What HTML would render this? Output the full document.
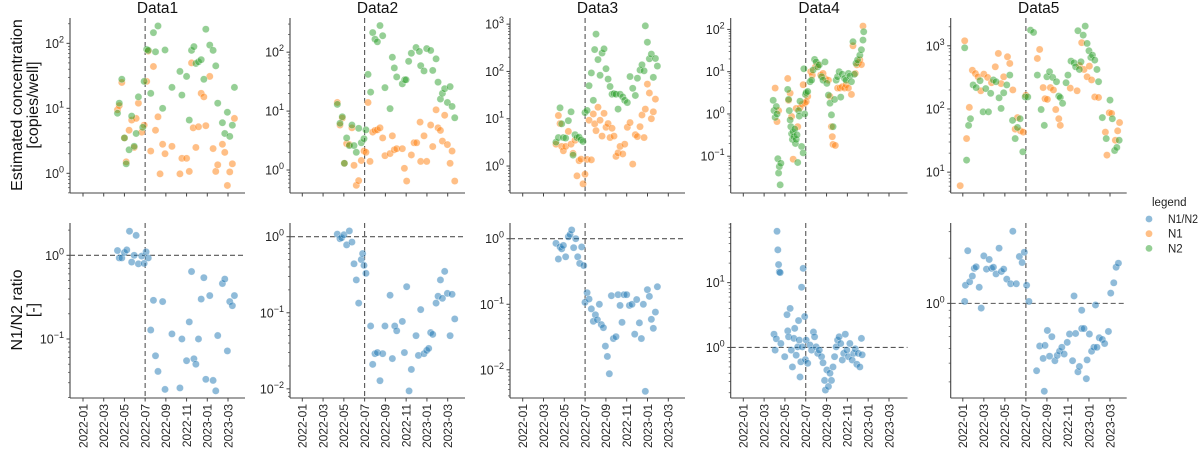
<!DOCTYPE html>
<html><head><meta charset="utf-8">
<style>
html,body{margin:0;padding:0;background:#fff;}
svg{display:block;font-family:"Liberation Sans","DejaVu Sans",sans-serif;}
</style></head>
<body>
<svg id="chart" width="1200" height="453" viewBox="0 0 1200 453" xmlns="http://www.w3.org/2000/svg"></svg>
<script>
// ---------- DATA (months since 2022-01-01, values) ----------
const xTickLabels = ["2022-01","2022-03","2022-05","2022-07","2022-09","2022-11","2023-01","2023-03"];
const xTickMonths = [0,2,4,6,8,10,12,14];
const panelTitles = ["Data1","Data2","Data3","Data4","Data5"];
const cutoffMonth = 6;
const ratioRef = 1;

const d1N1Month = [3.33,3.5,3.75,4.0,4.17,4.45,4.7,4.94,5.13,5.35,5.67,5.9,6.15,6.3,6.54,6.8,7.0,7.24,7.44,7.69,7.92,8.59,9.36,9.55,10.0,10.26,10.48,10.64,10.9,11.15,11.41,11.67,11.86,12.24,12.56,12.82,13.01,13.46,13.69,14.17,14.42,14.62,13.94];
const d1N1 = [9.5,11,25,3.5,1.5,4.6,6.6,2.5,7.0,12,4.3,5.5,26,76,2.2,44,4.6,7.4,0.98,2.8,2.0,2.6,0.98,1.7,1.7,1.07,50,5.0,2.5,5.2,17,15,5.4,31,2.4,1.07,1.35,2.8,2.1,1.05,1.4,7.0,0.65];
const d1N2Month = [3.33,3.5,3.75,4.0,4.17,4.45,4.7,4.94,5.13,5.35,5.77,5.9,6.15,6.3,6.54,6.8,7.0,7.24,7.69,7.92,8.59,9.36,9.55,10.0,10.26,10.48,10.71,10.9,11.15,11.41,11.67,11.86,12.24,12.56,12.82,13.01,13.46,13.94,13.69,14.17,14.42,14.62];
const d1N2 = [8.4,12,28,3.5,1.4,2.3,7.6,2.6,4.1,15,5.1,26,81,78,17,146,74,185,10,79,21,37,16,31,6.6,78,89,49,52,56,28,165,94,78,45,12,6.0,8.7,4.1,3.7,5.5,21];
const d1RatioMonth = [3.33,3.5,3.75,4.0,4.23,4.49,4.7,4.94,5.13,5.35,5.67,5.9,6.09,6.3,6.54,6.8,7.0,7.24,7.69,7.92,8.59,9.36,9.55,10.0,10.26,10.48,10.71,10.9,11.15,11.41,11.67,11.86,12.24,12.56,12.82,13.01,13.46,13.69,13.94,14.17,14.42,14.62];
const d1Ratio = [1.14,0.93,0.93,1.08,1.16,1.94,0.83,1.0,1.73,0.79,0.98,0.80,1.1,0.93,0.128,0.29,0.063,0.041,0.28,0.025,0.115,0.026,0.10,0.055,0.16,0.64,0.058,0.05,0.10,0.30,0.54,0.033,0.33,0.032,0.024,0.11,0.46,0.52,0.072,0.28,0.25,0.33];

const d2N1Month = [3.37,3.63,3.85,4.05,4.27,4.53,4.78,4.98,5.2,5.43,5.68,5.94,6.13,6.33,6.52,6.78,7.0,7.23,7.48,7.74,7.96,8.45,8.67,8.86,9.09,9.63,9.83,10.05,10.5,10.76,11.01,11.34,11.4,11.72,11.98,12.36,12.56,12.88,13.07,13.3,13.49,13.71,13.97,14.23,14.42,14.68];
const d2N1 = [14,5.8,7.6,1.3,2.8,2.7,5.2,1.2,0.55,0.66,1.45,2.1,2.0,14,1.4,4.4,4.7,4.8,5.2,3.5,1.75,1.9,3.8,2.2,2.3,2.3,1.07,0.65,1.8,2.9,2.9,6.5,1.4,3.8,1.4,5.8,2.5,10.5,5.2,4.7,3.1,8.5,2.7,1.3,2.1,0.65];
const d2N2Month = [3.37,3.63,3.85,4.05,4.27,4.53,4.78,4.98,5.2,5.43,5.68,5.94,6.13,6.33,6.58,6.78,7.0,7.23,7.48,7.74,7.96,8.45,8.67,8.86,9.09,9.63,9.86,9.99,10.24,10.5,10.95,11.27,11.4,11.72,11.98,12.36,12.56,12.88,13.07,13.3,13.49,13.71,13.97,14.23,14.42,14.68];
const d2N2 = [13,6.2,8.0,1.3,3.5,2.6,5.8,2.6,2.0,5.1,2.9,3.4,4.8,42,21,215,166,150,283,190,25,11,82,54,38,29,34,34,70,96,120,103,59,48,115,107,49,77,31,16,20,24,14,26,12,7.7];
const d2RatioMonth = [3.37,3.63,3.79,4.01,4.27,4.53,4.78,4.98,5.2,5.43,5.68,5.81,5.94,6.13,6.58,6.78,7.0,7.23,7.48,7.74,7.96,8.45,8.67,8.9,9.09,9.63,9.83,10.05,10.28,10.5,10.95,11.18,11.4,11.72,11.98,12.17,12.36,12.56,12.88,13.07,13.3,13.49,13.71,13.97,14.23,14.42,14.68];
const d2Ratio = [1.08,0.94,0.97,1.06,0.78,1.19,0.85,0.44,0.27,0.134,0.50,0.60,0.42,0.33,0.067,0.021,0.029,0.030,0.0128,0.029,0.067,0.17,0.025,0.067,0.058,0.077,0.030,0.22,0.0094,0.018,0.05,0.0275,0.11,0.029,0.032,0.034,0.055,0.052,0.134,0.165,0.27,0.155,0.35,0.18,0.05,0.175,0.083];

const d3N2Month = [3.2,3.43,3.59,3.75,3.91,4.13,4.39,4.65,4.84,5.03,5.22,5.42,5.61,5.8,5.99,6.19,6.38,6.6,6.79,6.92,7.05,7.24,7.44,7.63,7.82,8.01,8.21,8.4,8.59,8.78,8.97,9.17,9.36,9.62,9.81,10.06,10.32,10.58,10.83,11.03,11.28,11.47,11.67,11.79,11.99,12.18,12.37,12.56,12.76,12.95];
const d3N2 = [3.2,4.0,17,7.8,4.0,3.9,9.1,14,1.7,4.6,4.0,4.1,3.6,3.3,13.5,15,50,93,24.5,290,615,178,83,245,300,114,69,48,33,34,33,16,33,29,24.5,22,78,44,31,72,107,138,103,920,415,185,233,75,188,130];
const d3N1Month = [3.2,3.43,3.59,3.75,3.91,4.13,4.39,4.65,4.84,5.03,5.22,5.42,5.61,5.8,5.99,6.19,6.38,6.6,6.79,6.92,7.05,7.24,7.44,7.63,7.82,8.01,8.21,8.4,8.59,8.78,8.97,9.17,9.36,9.62,9.81,10.06,10.32,10.58,10.83,11.03,11.28,11.47,11.67,11.79,11.99,12.18,12.37,12.56,12.76];
const d3N1 = [2.9,11.7,7.9,2.6,2.1,2.6,5.4,2.9,1.85,3.5,0.62,1.3,1.4,0.42,0.67,1.38,9.3,1.35,12.6,7.8,5.6,17.5,9.3,4.3,13,6.6,7.9,4.0,6.3,4.3,1.6,1.9,2.6,1.8,2.9,6.6,8.3,1.1,4.6,4.2,6.8,12,4.0,16,54,35,10,14,26];
const d3RatioMonth = [3.2,3.43,3.59,3.75,3.91,4.13,4.39,4.55,4.71,4.9,5.1,5.29,5.48,5.67,5.87,5.99,6.19,6.38,6.6,6.79,6.99,7.18,7.37,7.56,7.76,7.95,8.14,8.33,8.53,8.72,8.97,9.17,9.36,9.55,9.74,10.0,10.26,10.51,10.77,10.96,11.22,11.41,11.6,11.79,11.99,12.18,12.37,12.56,12.76,12.95];
const d3Ratio = [0.85,0.49,0.75,0.70,0.79,0.53,1.07,1.16,1.36,0.73,1.0,0.53,0.42,0.75,0.39,0.107,0.15,0.12,0.085,0.055,0.069,0.058,0.10,0.049,0.044,0.023,0.016,0.0087,0.135,0.030,0.032,0.14,0.096,0.053,0.14,0.14,0.096,0.10,0.035,0.118,0.052,0.030,0.10,0.0047,0.167,0.132,0.059,0.043,0.076,0.185];

const d4N1Month = [3.06,3.24,3.39,4.27,4.35,4.5,4.64,4.79,5.08,5.23,5.45,5.67,5.75,5.9,6.04,6.19,6.48,6.63,6.93,7.15,7.44,7.66,7.89,8.18,8.33,8.47,8.55,8.62,8.84,9.06,9.29,9.51,9.73,9.87,10.1,10.39,10.54,10.76,10.91,11.05,11.2,11.35,11.5];
const d4N1 = [4.1,0.66,1.2,6.9,2.1,3.1,0.87,0.085,1.35,0.50,1.4,1.7,4.9,1.8,1.95,2.6,10,8.3,13,14.5,8.3,9.1,6.8,6.3,2.6,0.50,0.29,0.19,0.18,4.1,4.1,4.4,4.1,4.9,4.1,2.9,41,9.1,14.5,16,19,14.7,120];
const d4N2Month = [2.87,2.95,3.06,3.17,3.24,3.32,3.39,3.46,3.54,3.61,4.27,4.35,4.42,4.5,4.57,4.64,4.72,4.79,4.86,4.94,5.01,5.08,5.16,5.23,5.31,5.38,5.45,5.6,5.75,5.82,5.9,5.97,6.04,6.19,6.41,6.56,6.71,6.85,7.0,7.15,7.3,7.52,7.66,7.85,8.03,8.18,8.33,8.47,8.62,8.77,8.92,9.06,9.21,9.36,9.51,9.73,9.87,10.1,10.24,10.39,10.54,10.68,10.83,10.98,11.2,11.35,11.5,11.57];
const d4N2 = [2.1,1.2,0.83,1.5,1.0,0.087,0.040,0.057,0.021,0.068,3.8,2.2,1.2,0.72,0.50,0.34,0.25,0.38,0.29,0.44,0.20,0.25,0.32,0.071,1.2,0.89,2.0,0.17,0.12,11.7,1.0,2.9,3.2,3.4,5.8,6.3,11,19.5,17,13,14.5,7.6,6.3,17,5.3,2.8,1.8,0.95,0.50,2.2,6.3,7.6,10,2.5,8.7,6.9,6.3,9.1,7.9,5.8,51,8.7,15.8,19,24.6,33,56,88];
const d4RatioMonth = [2.95,3.06,3.17,3.24,3.32,3.39,3.46,3.54,3.61,3.98,4.2,4.27,4.35,4.5,4.61,4.72,4.86,4.94,5.08,5.23,5.31,5.38,5.45,5.53,5.6,5.67,5.75,5.9,5.97,6.04,6.19,6.41,6.56,6.74,6.85,7.0,7.15,7.3,7.52,7.66,7.81,7.89,8.03,8.18,8.33,8.47,8.62,8.77,8.92,9.06,9.21,9.36,9.51,9.65,9.8,9.95,10.1,10.24,10.46,10.61,10.76,10.91,11.05,11.2,11.35,11.42];
const d4Ratio = [1.6,0.91,1.36,62,32,19,14.6,14.3,1.15,0.72,3.2,1.8,1.46,4.0,0.91,0.50,1.38,1.97,0.76,1.02,2.6,1.3,0.35,0.60,8.5,1.02,16.6,3.0,0.65,1.3,0.57,1.09,0.91,1.73,1.46,1.02,0.81,0.91,0.72,0.58,0.31,0.22,0.45,0.25,0.40,0.31,0.50,0.72,1.02,1.3,1.46,1.15,0.64,0.81,1.6,0.91,0.72,1.15,0.64,0.81,0.95,0.55,0.81,0.50,1.38,0.77];

const d5N1Month = [-0.25,0.18,0.36,0.62,0.91,1.2,1.45,1.71,2.0,2.36,2.73,3.09,3.38,3.64,3.89,4.25,4.47,4.76,4.98,5.2,5.49,5.75,6.0,7.09,7.31,7.64,7.82,8.04,8.33,8.62,8.84,9.13,9.27,10.22,10.87,11.09,11.31,11.53,11.82,12.04,12.25,12.55,12.91,13.56,13.93,14.15,14.51,14.73,14.91,13.71];
const d5N1 = [6.1,1200,34,106,410,364,323,194,356,316,260,465,757,252,323,670,525,200,48,73,45,43,165,630,875,218,145,142,218,200,98,70,55,214,194,488,1120,422,323,477,288,155,152,43,87,85,32,45,61,18.6];
const d5N2Month = [0.18,0.36,0.55,0.73,0.98,1.27,1.64,1.93,2.18,2.44,2.65,2.91,3.16,3.45,3.64,3.89,4.18,4.47,4.73,4.98,5.2,5.45,5.71,5.93,6.18,6.44,6.73,7.09,7.45,7.75,8.0,8.25,8.55,8.91,9.13,9.27,9.49,9.82,10.0,10.29,10.58,10.73,10.95,11.09,11.24,11.45,11.64,11.82,12.0,12.18,12.33,12.55,12.76,12.91,13.27,13.64,14.0,14.22,14.44,14.65,14.87];
const d5N2 = [930,15.5,55,70,240,218,280,90,210,90,177,288,270,150,102,180,240,344,66,34,51,70,21,155,155,1770,1630,344,98,55,323,388,316,270,160,152,123,260,344,573,538,465,1730,422,558,1475,2050,1090,834,655,712,593,422,270,73,34,138,70,22,24.6,32];
const d5RatioMonth = [0.18,0.25,0.47,0.65,0.91,1.09,1.27,1.56,1.75,2.0,2.25,2.51,2.73,2.91,3.16,3.45,3.67,3.89,4.18,4.55,4.76,5.09,5.38,5.64,5.85,6.07,6.29,7.02,7.31,7.64,7.82,8.04,8.25,8.47,8.76,8.98,9.2,9.42,9.64,9.93,10.15,10.44,10.58,10.73,10.95,11.09,11.31,11.31,11.53,11.75,11.82,12.04,12.25,12.47,12.62,12.76,12.98,13.27,13.49,13.85,14.07,14.36,14.58,14.8,7.75];
const d5Ratio = [1.03,1.32,2.24,1.39,1.52,1.71,1.75,1.28,0.93,2.07,1.69,1.96,1.71,1.74,1.57,2.33,1.63,1.69,1.45,1.35,3.02,1.35,2.05,1.87,2.19,1.32,1.03,0.356,0.52,0.43,0.525,0.66,0.445,0.60,0.415,0.45,0.48,0.51,0.46,0.55,0.625,0.415,1.12,0.63,0.35,0.38,0.90,0.68,0.68,0.315,0.42,0.625,0.48,0.51,0.975,0.51,0.59,0.575,0.54,0.65,1.17,1.37,1.74,1.85,0.26];

// ---------- LAYOUT ----------
const NS = "http://www.w3.org/2000/svg";
const svg = document.getElementById("chart");
const COLORS = {ratio:"#1f77b4", n1:"#ff7f0e", n2:"#2ca02c"};
const rowTop = {y0:18, y1:193};
const rowBot = {y0:223, y1:398};
const cols = [
 {left:70, right:245, t0:83, t14:228, top:[-0.303,2.39], bot:[-1.705,0.386]},
 {left:290, right:465, t0:302.3, t14:447.7, top:[-0.39,2.58], bot:[-2.12,0.18]},
 {left:510, right:685, t0:522.7, t14:668.3, top:[-0.57,3.13], bot:[-2.43,0.24]},
 {left:730.7, right:907.5, t0:743.3, t14:889, top:[-1.87,2.27], bot:[-0.78,1.92]},
 {left:950.7, right:1126.7, t0:962.8, t14:1110, top:[0.67,3.44], bot:[-0.63,0.535]}
];
const panelData = [
 {n1m:d1N1Month,n1:d1N1,n2m:d1N2Month,n2:d1N2,rm:d1RatioMonth,r:d1Ratio},
 {n1m:d2N1Month,n1:d2N1,n2m:d2N2Month,n2:d2N2,rm:d2RatioMonth,r:d2Ratio},
 {n1m:d3N1Month,n1:d3N1,n2m:d3N2Month,n2:d3N2,rm:d3RatioMonth,r:d3Ratio},
 {n1m:d4N1Month,n1:d4N1,n2m:d4N2Month,n2:d4N2,rm:d4RatioMonth,r:d4Ratio},
 {n1m:d5N1Month,n1:d5N1,n2m:d5N2Month,n2:d5N2,rm:d5RatioMonth,r:d5Ratio}
];

function mk(tag, attrs, parent){
  const e = document.createElementNS(NS, tag);
  for (const k in attrs) e.setAttribute(k, attrs[k]);
  (parent||svg).appendChild(e);
  return e;
}
function xScale(c, m){ return c.t0 + m*(c.t14-c.t0)/14; }
function yScale(range, row, v){
  const l = Math.log10(v);
  return row.y1 - (l-range[0])/(range[1]-range[0])*(row.y1-row.y0);
}

function drawAxes(ci, rowKey, row, g, showLabels){
  const c = cols[ci], range = c[rowKey];
  const axis = mk("g", {}, g);
  
  
  mk("line",{x1:c.left,y1:row.y0,x2:c.left,y2:row.y1,stroke:"#444","stroke-width":1.1},axis);
  mk("line",{x1:c.left,y1:row.y1,x2:c.right,y2:row.y1,stroke:"#444","stroke-width":1.1},axis);
  for (let k=Math.floor(range[0]); k<=Math.ceil(range[1]); k++){
    for (let m=1; m<=9; m++){
      const l = k+Math.log10(m);
      if (l<range[0]||l>range[1]) continue;
      const y = row.y1-(l-range[0])/(range[1]-range[0])*(row.y1-row.y0);
      mk("line",{x1:c.left-(m===1?3.5:2),y1:y,x2:c.left,y2:y,stroke:"#444","stroke-width":m===1?1:0.7},axis);
      if (m===1){
        const t = mk("text",{x:c.left-6,y:y+4.5,"text-anchor":"end","font-size":12.5,fill:"#262626"},axis);
        
        
        const a = mk("tspan",{},t); a.textContent="10";
        const b = mk("tspan",{dy:-5.5,"font-size":9},t); b.textContent = k<0 ? "\u2212"+(-k) : String(k);
      }
    }
  }
  xTickMonths.forEach((m,i)=>{
    const x = xScale(c,m);
    mk("line",{x1:x,y1:row.y1,x2:x,y2:row.y1+3.5,stroke:"#444","stroke-width":1},axis);
    if (showLabels){
      const t = mk("text",{x:0,y:0,"text-anchor":"end","font-size":12,fill:"#262626",
        transform:`translate(${x+4.3},${row.y1+6}) rotate(-90)`},axis);
      
      
      t.textContent = xTickLabels[i];
    }
  });
  const xc = xScale(c, cutoffMonth);
  const vl = mk("line",{x1:xc,y1:row.y0,x2:xc,y2:row.y1,stroke:"#555","stroke-width":1.1,"stroke-dasharray":"5,3"},axis);
  
  
}

function drawPoints(ci, rowKey, row, g, months, vals, color, name){
  const c = cols[ci];
  const sg = mk("g",{},g);
  
  
  months.forEach((m,i)=>{
    const p = mk("circle",{cx:xScale(c,m), cy:yScale(c[rowKey],row,vals[i]), r:3.6,
      fill:color,"fill-opacity":0.5,stroke:"#fff","stroke-width":0.5,"stroke-opacity":0.6},sg);
    
    
  });
}

cols.forEach((c,ci)=>{
  const g = mk("g",{});
  
  
  const t = mk("text",{x:(c.left+c.right)/2,y:13,"text-anchor":"middle","font-size":15.5,fill:"#111"},g);
  
  
  t.textContent = panelTitles[ci];
  const d = panelData[ci];
  drawAxes(ci,'top',rowTop,g,false);
  drawPoints(ci,'top',rowTop,g,d.n1m,d.n1,COLORS.n1,'n1');
  drawPoints(ci,'top',rowTop,g,d.n2m,d.n2,COLORS.n2,'n2');
  drawAxes(ci,'bot',rowBot,g,true);
  const yr = yScale(c.bot,rowBot,ratioRef);
  const hl = mk("line",{x1:c.left,y1:yr,x2:c.right,y2:yr,stroke:"#555","stroke-width":1.1,"stroke-dasharray":"5,3"},g);
  
  
  drawPoints(ci,'bot',rowBot,g,d.rm,d.r,COLORS.ratio,'ratio');
});

function yTitle(lines, cy, name){
  const g = mk("g",{});
  
  
  lines.forEach((s,i)=>{
    const x = 16.5 + i*16;
    const t = mk("text",{x:0,y:0,"text-anchor":"middle","font-size":16,fill:"#111",
      transform:`translate(${x+5.5},${cy}) rotate(-90)`},g);
    t.textContent = s;
  });
}
yTitle(["Estimated concentration","[copies/well]"],105,'concentration-y-title');
yTitle(["N1/N2 ratio","[-]"],310,'ratio-y-title');

const lg = mk("g",{});


const lt = mk("text",{x:1152,y:206,"font-size":11.5,fill:"#222"},lg);
lt.textContent = "legend";
[["N1/N2",COLORS.ratio],["N1",COLORS.n1],["N2",COLORS.n2]].forEach((e,i)=>{
  const y = 219 + i*14.7;
  const eg = mk("g",{},lg);
  
  
  mk("circle",{cx:1149,cy:y,r:3.4,fill:e[1],"fill-opacity":0.5},eg);
  const attrs = {x:1168,y:y+4,"font-size":11.5,fill:"#222"};
  if (e[0]==="N1/N2"){ attrs.textLength = 30; attrs.lengthAdjust = "spacingAndGlyphs"; }
  const tx = mk("text",attrs,eg);
  tx.textContent = e[0];
});
</script>
</body></html>
